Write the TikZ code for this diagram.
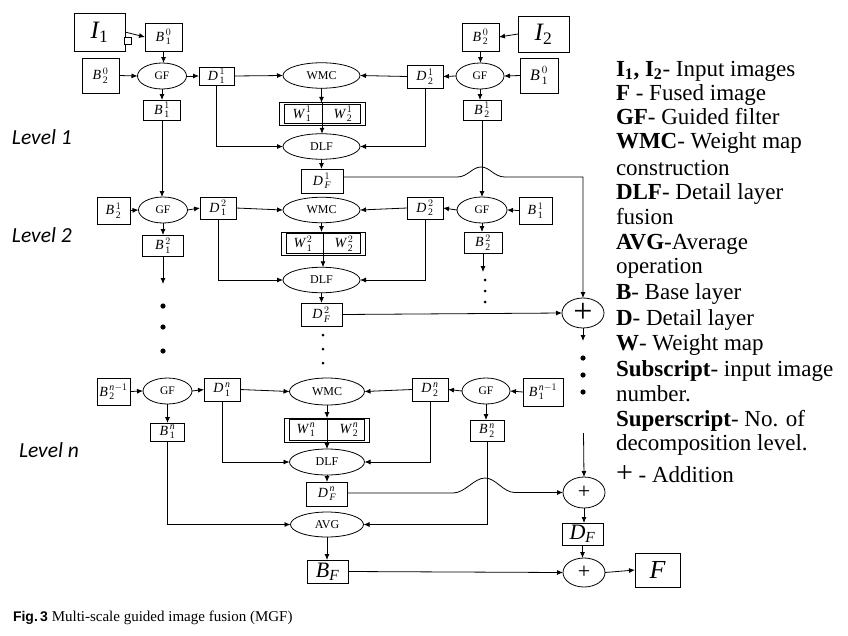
\documentclass[tikz,border=0pt]{standalone}
\usepackage{fontspec}
\setmainfont{Liberation Serif}
\newfontfamily\calib{Carlito}
\newfontfamily\capsans{Liberation Sans}
\usetikzlibrary{shapes.geometric,arrows.meta,calc}
\newcommand\mv[3]{${\mathit{#1}\mkern2mu}_{\mathrm{#2}}^{#3}$}
\begin{document}
\begin{tikzpicture}[x=1pt,y=-1pt,line width=0.8pt,
  every node/.style={inner sep=0pt,outer sep=0pt},
  bx/.style={draw,rectangle,font=\fontsize{14}{14}\selectfont},
  el/.style={draw,ellipse,font=\fontsize{12}{12}\selectfont},
  gf/.style={el,minimum width=49pt,minimum height=26pt,font=\fontsize{11.5}{12}\selectfont},
  big/.style={el,minimum width=77pt,minimum height=25.5pt},
  wbox/.style={draw,rectangle,minimum height=22.5pt},
  pl/.style={draw,ellipse,minimum width=42pt,minimum height=30pt},
  arr/.style={-{Latex[length=6pt,width=5pt]}},
  leg/.style={anchor=base west,font=\fontsize{23}{25}\selectfont},
  lvl/.style={anchor=base west,font=\calib\itshape\fontsize{21.5}{22}\selectfont},
  bigdot/.style={radius=2.6pt},
  smdot/.style={radius=1.5pt}]
\path[use as bounding box] (0,0) rectangle (848,635);

% ---------------- Level 1 ----------------
\node[bx,minimum width=51pt,minimum height=38pt,font=\fontsize{25}{25}\selectfont] (I1) at (99.5,32) {$\mathit{I}_{\mathrm{1}}$};
\node[draw,rectangle,minimum size=7pt,fill=white] (sq) at (127.5,40.5) {};
\node[bx,minimum width=37pt,minimum height=28pt] (B10) at (163.5,37) {\mv{B}{1}{0}};
\node[bx,minimum width=37pt,minimum height=35pt] (B20L) at (100.5,75.5) {\mv{B}{2}{0}};
\node[gf] (GF1L) at (162,76) {GF};
\node[bx,minimum width=35pt,minimum height=18pt] (D11) at (216.5,76) {\mv{D}{1}{1}};
\node[big] (WMC1) at (321.5,75.5) {WMC};
\node[wbox,minimum width=86pt] (W1) at (322,114) {};
\draw ([xshift=5pt,yshift=-1.5pt]W1.north west) rectangle ([xshift=-5pt,yshift=1.5pt]W1.south east);
\node[font=\fontsize{14}{14}\selectfont] (W1a) at (302,114) {\mv{W}{1}{1}};
\node[font=\fontsize{14}{14}\selectfont] (W1b) at (343,114) {\mv{W}{2}{1}};
\node[big] (DLF1) at (321.5,146.5) {DLF};
\node[bx,minimum width=42pt,minimum height=24pt] (DF1) at (322,181) {\mv{D}{\mathit{F}}{1}};
\node[bx,minimum width=37pt,minimum height=20pt] (B11) at (162,110) {\mv{B}{1}{1}};

\node[bx,minimum width=51pt,minimum height=36pt,font=\fontsize{25}{25}\selectfont] (I2) at (543.5,34) {$\mathit{I}_{\mathrm{2}}$};
\node[bx,minimum width=37pt,minimum height=28pt] (B20R) at (480.5,37) {\mv{B}{2}{0}};
\node[gf,minimum width=48pt] (GF1R) at (480,76) {GF};
\node[bx,minimum width=38pt,minimum height=35pt,font=\fontsize{16}{16}\selectfont] (B10R) at (539,75.5) {\mv{B}{1}{0}};
\node[bx,minimum width=36pt,minimum height=23pt] (D21) at (425,76.5) {\mv{D}{2}{1}};
\node[bx,minimum width=38pt,minimum height=20pt] (B21) at (482,110) {\mv{B}{2}{1}};

\draw[arr] (I1.east) -- (B10.west);
\draw[arr] (B10.south) -- (B10.south |- GF1L.north);
\draw[arr] (B20L.east) -- (GF1L.west);
\draw[arr] (GF1L.east) -- (D11.west);
\draw[arr] (D11.east) -- (WMC1.west);
\draw[arr] (GF1L.south) -- (GF1L.south |- B11.north);
\draw[arr] (WMC1.south) -- (WMC1.south |- W1.north);
\draw (W1.north) -- (W1.south);
\draw[arr] (W1.south) -- (W1.south |- DLF1.north);
\draw[arr] (D11.south) |- (DLF1.west);
\draw[arr] (DLF1.south) -- (DLF1.south |- DF1.north);
\draw[arr] (I2.west) -- (B20R.east);
\draw[arr] (B20R.south) -- (B20R.south |- GF1R.north);
\draw[arr] (B10R.west) -- (GF1R.east);
\draw[arr] (GF1R.west) -- (D21.east);
\draw[arr] (D21.west) -- (WMC1.east);
\draw[arr] (D21.south) |- (DLF1.east);
\draw[arr] (GF1R.south) -- (GF1R.south |- B21.north);

% ---------------- Level 2 ----------------
\node[bx,minimum width=33pt,minimum height=27pt] (B21L) at (113.5,210.5) {\mv{B}{2}{1}};
\node[gf] (GF2L) at (163,210) {GF};
\node[bx,minimum width=36pt,minimum height=22pt] (D12) at (218,208) {\mv{D}{1}{2}};
\node[big] (WMC2) at (321.5,210) {WMC};
\node[wbox,minimum width=84pt,minimum height=23pt] (W2) at (323,243.5) {};
\draw ([xshift=5pt,yshift=-1.5pt]W2.north west) rectangle ([xshift=-5pt,yshift=1.5pt]W2.south east);
\node[font=\fontsize{14}{14}\selectfont] (W2a) at (303,243.5) {\mv{W}{1}{2}};
\node[font=\fontsize{14}{14}\selectfont] (W2b) at (344,243.5) {\mv{W}{2}{2}};
\node[big] (DLF2) at (321.5,280) {DLF};
\node[bx,minimum width=41pt,minimum height=23pt] (DF2) at (321.5,314.5) {\mv{D}{\mathit{F}}{2}};
\node[bx,minimum width=41pt,minimum height=21pt] (B12) at (163,245.5) {\mv{B}{1}{2}};
\node[bx,minimum width=36pt,minimum height=22pt] (D22) at (425,208) {\mv{D}{2}{2}};
\node[gf,minimum width=50pt] (GF2R) at (482,210) {GF};
\node[bx,minimum width=33pt,minimum height=27pt] (B11R) at (535.5,210.5) {\mv{B}{1}{1}};
\node[bx,minimum width=38pt,minimum height=21pt] (B22) at (483,242.5) {\mv{B}{2}{2}};
\node[pl,font=\fontsize{34}{34}\selectfont] (P1) at (583,313) {+};
\coordinate (c1) at (163,284);
\coordinate (c2) at (483,272);
\coordinate (c3) at (583,341);

\draw[arr] (B11.south) -- (B11.south |- GF2L.north);
\draw[arr] (B21.south) -- (B21.south |- GF2R.north);
\draw[arr] ([yshift=4pt]DF1.east) -- (457,177) .. controls (468,177) and (472,167) .. (481,167)
   .. controls (490,167) and (494,177) .. (505,177) -- (583,177) -- (P1.north);
\draw[arr] (B21L.east) -- (GF2L.west);
\draw[arr] (GF2L.east) -- (D12.west);
\draw[arr] (D12.east) -- (WMC2.west);
\draw[arr] (WMC2.south) -- (WMC2.south |- W2.north);
\draw (W2.north) -- (W2.south);
\draw[arr] (W2.south) -- (W2.south |- DLF2.north);
\draw[arr] (D12.south) |- (DLF2.west);
\draw[arr] (DLF2.south) -- (DLF2.south |- DF2.north);
\draw[arr] (GF2L.south) -- (GF2L.south |- B12.north);
\draw[arr] (B12.south) -- (c1);
\draw[arr] (D22.west) -- (WMC2.east);
\draw[arr] (D22.south) |- (DLF2.east);
\draw[arr] (GF2R.west) -- (D22.east);
\draw[arr] (B11R.west) -- (GF2R.east);
\draw[arr] (GF2R.south) -- (GF2R.south |- B22.north);
\draw[arr] (B22.south) -- (c2);
\draw[arr] (DF2.east) -- (P1.west);
\draw[arr] (P1.south) -- (c3);

\fill (163,306) circle[bigdot];
\fill (163,327) circle[bigdot];
\fill (163,351) circle[bigdot];
\fill (485,280) circle[smdot];
\fill (485,291) circle[smdot];
\fill (485,302) circle[smdot];
\fill (323,335) circle[smdot];
\fill (323,349) circle[smdot];
\fill (323,363) circle[smdot];
\fill (583,358) circle[bigdot];
\fill (583,375) circle[bigdot];
\fill (583,392) circle[bigdot];

% ---------------- Level n ----------------
\node[bx,minimum width=33pt,minimum height=27pt] (B2n1) at (113.5,391.5) {\mv{B}{2}{\mathit{n}-1}};
\node[gf] (GFnL) at (167.5,391) {GF};
\node[bx,minimum width=36pt,minimum height=23pt] (D1n) at (222,389.5) {\mv{D}{1}{\mathit{n}}};
\node[big,minimum width=75pt,minimum height=27pt] (WMCn) at (327,391.5) {WMC};
\node[wbox,minimum width=85pt,minimum height=24pt] (Wn) at (327,430) {};
\draw ([xshift=5pt,yshift=-1.5pt]Wn.north west) rectangle ([xshift=-5pt,yshift=1.5pt]Wn.south east);
\node[font=\fontsize{14}{14}\selectfont] (Wna) at (306,430) {\mv{W}{1}{\mathit{n}}};
\node[font=\fontsize{14}{14}\selectfont] (Wnb) at (349,430) {\mv{W}{2}{\mathit{n}}};
\node[big,minimum width=75pt,minimum height=26pt] (DLFn) at (327,462) {DLF};
\node[bx,minimum width=41pt,minimum height=24pt] (DFn) at (327,494) {\mv{D}{\mathit{F}}{\mathit{n}}};
\node[big,minimum width=73pt,minimum height=25pt] (AVG) at (327,524.5) {AVG};
\node[bx,minimum width=41pt,minimum height=23pt,font=\fontsize{22}{22}\selectfont] (BF) at (327.5,571.5) {$\mathit{B}_{\mathit{F}}$};
\node[bx,minimum width=34pt,minimum height=18pt] (B1n) at (167.5,432) {\mv{B}{1}{\mathit{n}}};
\node[bx,minimum width=36pt,minimum height=23pt] (D2n) at (430,389.5) {\mv{D}{2}{\mathit{n}}};
\node[gf,minimum width=48pt] (GFnR) at (486,391) {GF};
\node[bx,minimum width=40pt,minimum height=28pt] (B1n1R) at (543,392) {\mv{B}{1}{\mathit{n}-1}};
\node[bx,minimum width=34pt,minimum height=21pt] (B2n) at (487,430.5) {\mv{B}{2}{\mathit{n}}};
\node[pl,minimum height=31pt,font=\fontsize{22}{22}\selectfont] (P2) at (584,492.5) {+};
\node[bx,minimum width=41pt,minimum height=22pt,font=\fontsize{22}{22}\selectfont] (DF) at (582.5,534) {$\mathit{D}_{\mathit{F}}$};
\node[pl,minimum height=29pt,font=\fontsize{22}{22}\selectfont] (P3) at (584,572.5) {+};
\node[bx,minimum width=45pt,minimum height=34pt,font=\fontsize{26}{26}\selectfont] (F) at (657.5,570) {$\mathit{F}$};
\coordinate (c4) at (583.5,433);

\draw[arr] (B2n1.east) -- (GFnL.west);
\draw[arr] (GFnL.east) -- (D1n.west);
\draw[arr] (D1n.east) -- (WMCn.west);
\draw[arr] (WMCn.south) -- (WMCn.south |- Wn.north);
\draw (Wn.north) -- (Wn.south);
\draw[arr] (Wn.south) -- (Wn.south |- DLFn.north);
\draw[arr] (D1n.south) |- (DLFn.west);
\draw[arr] (DLFn.south) -- (DLFn.south |- DFn.north);
\draw[arr] (GFnL.south) -- (GFnL.south |- B1n.north);
\draw[arr] (B1n.south) |- (AVG.west);
\draw[arr] (D2n.west) -- (WMCn.east);
\draw[arr] (D2n.south) |- (DLFn.east);
\draw[arr] (GFnR.west) -- (D2n.east);
\draw[arr] (B1n1R.west) -- (GFnR.east);
\draw[arr] (GFnR.south) -- (GFnR.south |- B2n.north);
\draw[arr] (B2n.south) |- (AVG.east);
\draw[arr] (c4) -- (P2.north);
\draw[arr] ([yshift=1pt]DFn.east) -- (453,493) .. controls (465,493) and (474,478) .. (485,478)
   .. controls (496,478) and (503,492.5) .. (515,492.5) -- (P2.west);
\draw[arr] (P2.south) -- (P2.south |- DF.north);
\draw[arr] (DF.south) -- (DF.south |- P3.north);
\draw[arr] (AVG.south) -- (AVG.south |- BF.north);
\draw[arr] (BF.east) -- (P3.west);
\draw[arr] (P3.east) -- (F.west);

% ---------------- Level labels ----------------
\node[lvl] (L1) at (12,144) {Level 1};
\node[lvl] (L2) at (12,242) {Level 2};
\node[lvl] (Ln) at (19,457) {Level n};

% ---------------- Legend ----------------
\node[leg] (g1) at (616,76) {\textbf{I\textsubscript{1}, I\textsubscript{2}}- Input images};
\node[leg] (g2) at (616,100) {\textbf{F} - Fused image};
\node[leg] (g3) at (616,124) {\textbf{GF}- Guided filter};
\node[leg] (g4) at (616,148) {\textbf{WMC}- Weight map};
\node[leg] (g5) at (616,175) {construction};
\node[leg] (g6) at (616,199) {\textbf{DLF}- Detail layer};
\node[leg] (g7) at (616,224) {fusion};
\node[leg] (g8) at (616,249) {\textbf{AVG}-Average};
\node[leg] (g9) at (616,273) {operation};
\node[leg] (g10) at (616,299) {\textbf{B}- Base layer};
\node[leg] (g11) at (616,325) {\textbf{D}- Detail layer};
\node[leg] (g12) at (616,350) {\textbf{W}- Weight map};
\node[leg] (g13) at (616,376) {\textbf{Subscript}- input image};
\node[leg] (g14) at (616,401) {number.};
\node[leg] (g15) at (616,426) {\textbf{Superscript}- No. of};
\node[leg] (g16) at (616,450) {decomposition level.};
\node[leg] (g17) at (616,482) {{\fontsize{30}{30}\selectfont +} - Addition};

% ---------------- Caption ----------------
\node[anchor=base west,font=\fontsize{15}{16}\selectfont] (cap) at (13,621) {{\capsans\bfseries\fontsize{14}{16}\selectfont Fig.\,3} Multi-scale guided image fusion (MGF)};
\end{tikzpicture}
\end{document}
